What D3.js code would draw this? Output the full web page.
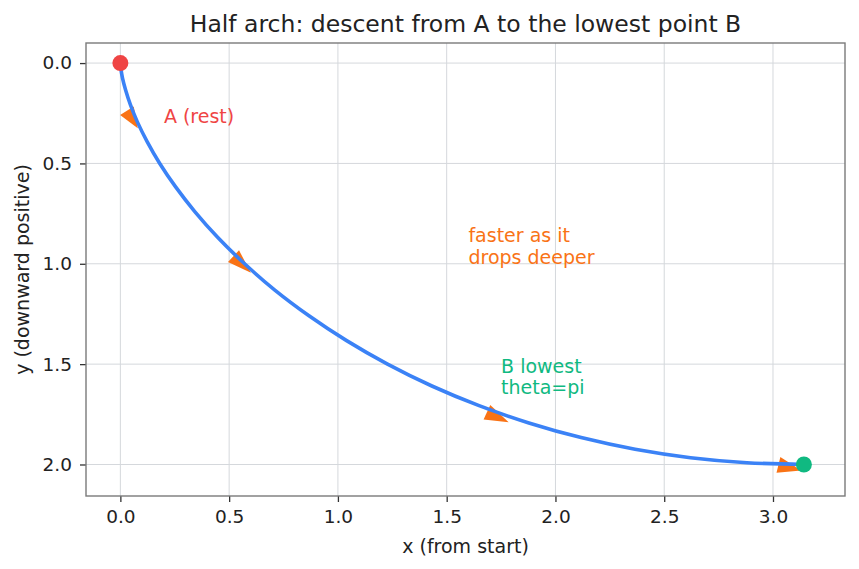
<!DOCTYPE html>
<html>
<head>
<meta charset="utf-8">
<script src="https://cdn.jsdelivr.net/npm/d3@7"></script>
<style>
    body { margin: 0; background: #fff; }
    svg text { font-family: "DejaVu Sans", sans-serif; fill: #222; }
</style>
</head>
<body>
<div id="chart"></div>
<script>
// curve points (x from start, y downward)
const curveX = [0, 0.000, 0.003, 0.010, 0.024, 0.046, 0.078, 0.123, 0.181, 0.254, 0.343, 0.448, 0.571,
    0.710, 0.867, 1.040, 1.228, 1.432, 1.649, 1.878, 2.118, 2.366, 2.621, 2.880, 3.142];
const curveY = [0, 0.009, 0.034, 0.076, 0.134, 0.207, 0.293, 0.391, 0.500, 0.617, 0.741, 0.869, 1.000,
    1.131, 1.259, 1.383, 1.500, 1.609, 1.707, 1.793, 1.866, 1.924, 1.966, 1.991, 2.000];

// orange arrow heads: base -> tip
const arrowBaseX = [0.030, 0.520, 1.685, 3.025];
const arrowBaseY = [0.238, 0.962, 1.740, 2.002];
const arrowTipX = [0.080, 0.600, 1.785, 3.130];
const arrowTipY = [0.325, 1.045, 1.790, 2.030];

const xTicks = [0.0, 0.5, 1.0, 1.5, 2.0, 2.5, 3.0];
const yTicks = [0.0, 0.5, 1.0, 1.5, 2.0];

const notes = [
    { x: 0.2, y: 0.3, lines: ["A (rest)"], color: "#ef4444" },
    { x: 1.6, y: 1.0, lines: ["faster as it", "drops deeper"], color: "#f97316" },
    { x: 1.75, y: 1.65, lines: ["B lowest", "theta=pi"], color: "#10b981" }
];

const W = 859, H = 569;
const margin = { top: 43, right: 14, bottom: 73, left: 86 };
const width = W - margin.left - margin.right,
    height = H - margin.top - margin.bottom;

const svg = d3.select("#chart").append("svg")
    .attr("width", W)
    .attr("height", H);

const g = svg.append("g")
    .attr("transform", "translate(" + margin.left + "," + margin.top + ")");

const x = d3.scaleLinear()
    .domain([-0.158, 3.331])
    .range([0, width]);

const y = d3.scaleLinear()
    .domain([-0.1, 2.157])
    .range([0, height]);

// grid
g.selectAll(".vgrid")
    .data(xTicks)
    .enter().append("line")
    .attr("x1", d => x(d)).attr("x2", d => x(d))
    .attr("y1", 0).attr("y2", height)
    .attr("stroke", "#d5d8dc").attr("stroke-width", 1);

g.selectAll(".hgrid")
    .data(yTicks)
    .enter().append("line")
    .attr("y1", d => y(d)).attr("y2", d => y(d))
    .attr("x1", 0).attr("x2", width)
    .attr("stroke", "#d5d8dc").attr("stroke-width", 1);

// axes
const xAxis = d3.axisBottom(x).tickValues(xTicks).tickFormat(d3.format(".1f")).tickSize(6).tickPadding(8);
const yAxis = d3.axisLeft(y).tickValues(yTicks).tickFormat(d3.format(".1f")).tickSize(6).tickPadding(8);

const gx = g.append("g")
    .attr("transform", "translate(0," + height + ")")
    .call(xAxis);
const gy = g.append("g").call(yAxis);

[gx, gy].forEach(a => {
    a.select(".domain").remove();
    a.selectAll(".tick line").attr("stroke", "#333").attr("stroke-width", 1.3);
    a.selectAll(".tick text").attr("font-size", 18.5).attr("fill", "#222")
        .attr("font-family", "DejaVu Sans");
});

// arrow heads (under the curve)
const headW = 8;
g.selectAll(".head")
    .data(d3.range(arrowTipX.length))
    .enter().append("path")
    .attr("fill", "#f97316")
    .attr("d", i => {
        const bx = x(arrowBaseX[i]), by = y(arrowBaseY[i]);
        const tx = x(arrowTipX[i]), ty = y(arrowTipY[i]);
        const len = Math.hypot(tx - bx, ty - by);
        const nx = -(ty - by) / len, ny = (tx - bx) / len;
        return "M" + tx + "," + ty +
            "L" + (bx + nx * headW) + "," + (by + ny * headW) +
            "L" + (bx - nx * headW) + "," + (by - ny * headW) + "Z";
    });

// curve
const line = d3.line()
    .x(i => x(curveX[i]))
    .y(i => y(curveY[i]))
    .curve(d3.curveCatmullRom);

g.append("path")
    .datum(d3.range(curveX.length))
    .attr("d", line)
    .attr("fill", "none")
    .attr("stroke", "#3b82f6")
    .attr("stroke-width", 3.6);

// end points
const last = curveX.length - 1;
g.append("circle")
    .attr("cx", x(curveX[0])).attr("cy", y(curveY[0]))
    .attr("r", 8).attr("fill", "#ef4444");
g.append("circle")
    .attr("cx", x(curveX[last])).attr("cy", y(curveY[last]))
    .attr("r", 8).attr("fill", "#10b981");

// notes
notes.forEach(n => {
    const t = g.append("text")
        .attr("x", x(n.x))
        .attr("y", y(n.y))
        .attr("font-size", 19)
        .style("fill", n.color);
    n.lines.forEach((l, j) => {
        t.append("tspan")
            .attr("x", x(n.x))
            .attr("dy", j === 0 ? -(n.lines.length - 1) * 21.5 : 21.5)
            .text(l);
    });
});

// frame
g.append("rect")
    .attr("width", width).attr("height", height)
    .attr("fill", "none")
    .attr("stroke", "#7a7a7a").attr("stroke-width", 1.4);

// title and labels
svg.append("text")
    .attr("x", margin.left + width / 2)
    .attr("y", 32)
    .attr("text-anchor", "middle")
    .attr("font-size", 23.5)
    .text("Half arch: descent from A to the lowest point B");

svg.append("text")
    .attr("x", margin.left + width / 2)
    .attr("y", 553)
    .attr("text-anchor", "middle")
    .attr("font-size", 19)
    .text("x (from start)");

svg.append("text")
    .attr("transform", "translate(29," + (margin.top + height / 2) + ") rotate(-90)")
    .attr("text-anchor", "middle")
    .attr("font-size", 19)
    .text("y (downward positive)");
</script>
</body>
</html>
